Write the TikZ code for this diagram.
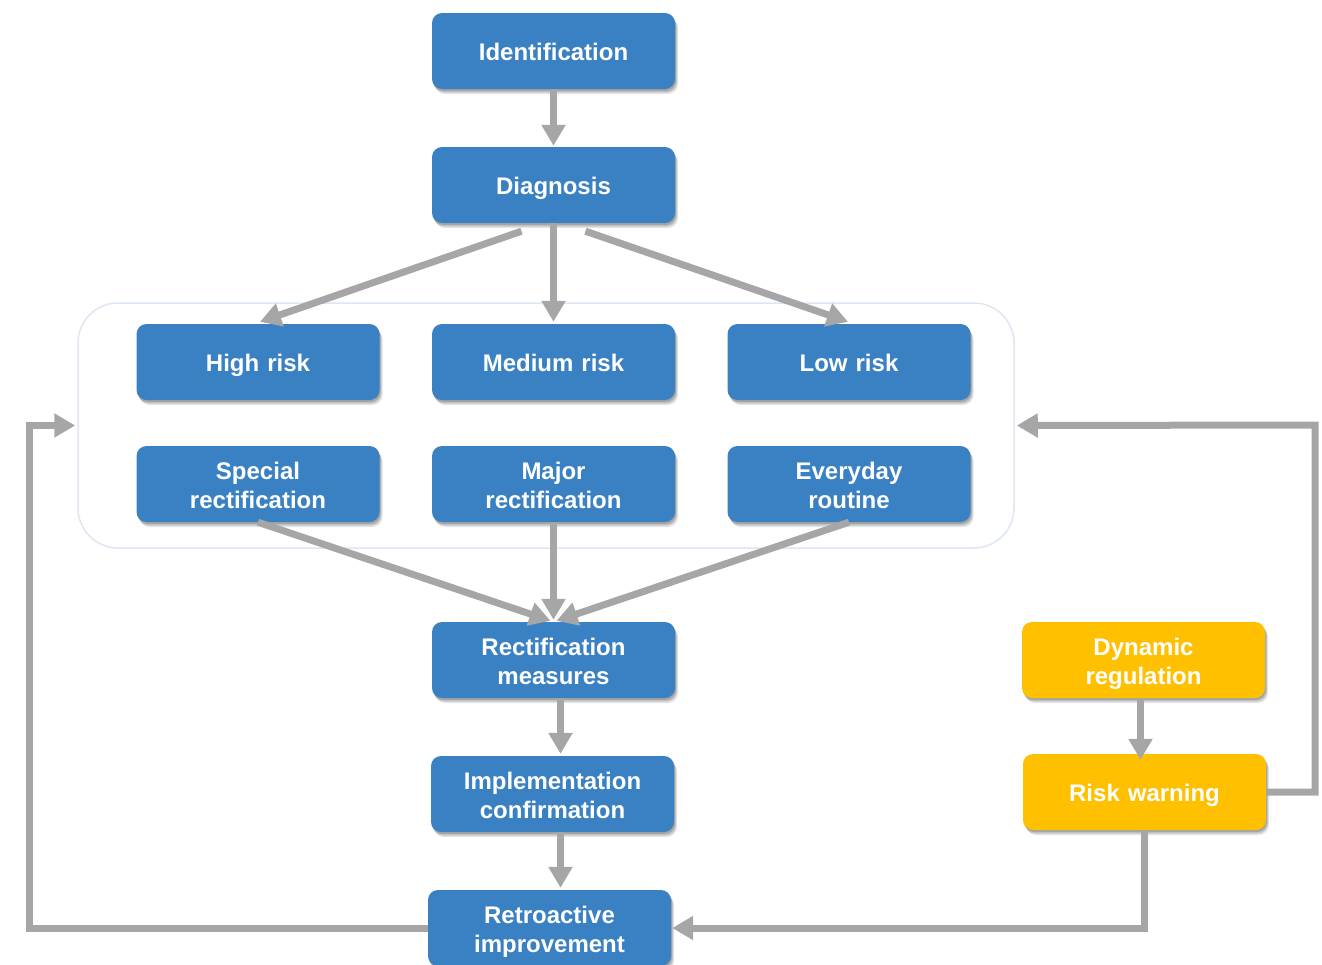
\documentclass[tikz,border=0pt]{standalone}
\usepackage{fontspec}
\setmainfont{Liberation Sans}
\usetikzlibrary{arrows.meta,shadows,calc}
\definecolor{boxblue}{HTML}{3A81C4}
\definecolor{boxgold}{HTML}{FFC000}
\definecolor{linkgray}{HTML}{A6A6A6}
\definecolor{frameblue}{HTML}{DDE6F1}
\tikzset{
  stepbox/.style={rounded corners=10pt, fill=boxblue, draw=none,
    minimum width=243pt, minimum height=76pt, text width=230pt, align=center,
    text=white, font=\fontsize{24}{29}\selectfont\bfseries,
    text height=18pt, text depth=0pt,
    drop shadow={shadow xshift=3pt, shadow yshift=-5pt, opacity=0.10, fill=black},
    drop shadow={shadow xshift=2pt, shadow yshift=-3.5pt, opacity=0.14, fill=black},
    drop shadow={shadow xshift=1pt, shadow yshift=-2pt, opacity=0.16, fill=black}},
  twoline/.style={text height=17.2pt, text depth=26.6pt},
  warnbox/.style={stepbox, fill=boxgold},
  groupframe/.style={rounded corners=40pt, draw=frameblue, line width=1.5pt, fill=none},
  link/.style={draw=linkgray, line width=7pt,
    -{Triangle[width=23pt,length=21pt]}}
}
\begin{document}
\begin{tikzpicture}[x=1pt,y=-1pt]
  \useasboundingbox (0,0) rectangle (1322,964);
  \clip (0,0) rectangle (1322,964);

  % grouping frame around the risk levels and the responses
  \node[groupframe, minimum width=936pt, minimum height=245pt] (grp) at (546,425.5) {};

  % main column
  \node[stepbox] (ident) at (553.5,51) {Identification};
  \node[stepbox] (diag)  at (553.5,185) {Diagnosis};

  % risk levels
  \node[stepbox] (high) at (258,362) {High risk};
  \node[stepbox] (med)  at (553.5,362) {Medium risk};
  \node[stepbox] (low)  at (849,362) {Low risk};

  % responses
  \node[stepbox, twoline] (spec)  at (258,484) {Special\\rectification};
  \node[stepbox, twoline] (major) at (553.5,484) {Major\\rectification};
  \node[stepbox, twoline] (every) at (849,484) {Everyday\\routine};

  \node[stepbox, twoline] (rect)  at (553.5,660) {Rectification\\measures};
  \node[stepbox, twoline] (impl)  at (552.5,794) {Implementation\\confirmation};
  \node[stepbox, twoline] (retro) at (549.5,928) {Retroactive\\improvement};

  % monitoring branch
  \node[warnbox, twoline] (dyn)  at (1143.5,660) {Dynamic\\regulation};
  \node[warnbox] (warn) at (1144.5,792) {Risk warning};

  % loop-back corners
  \coordinate (lc) at (29,928);
  \coordinate (rc) at (1315,425);

  % connectors
  \draw[link] (ident.south) -- ($(diag.north)+(0,-1)$);
  \draw[link] ($(diag.south)+(-32,8)$) -- ($(high.north)+(2,-2)$);
  \draw[link] (diag.south) -- ($(med.north)+(0,-2)$);
  \draw[link] ($(diag.south)+(32,8)$) -- ($(low.north)+(-1,-2)$);

  \draw[link] (spec.south) -- ($(rect.north)+(-3,-1)$);
  \draw[link] (major.south) -- ($(rect.north)+(0,-2)$);
  \draw[link] (every.south) -- ($(rect.north)+(3,-1)$);

  \draw[link] ($(rect.south)+(7,0)$) -- ($(impl.north)+(8,-2)$);
  \draw[link] ($(impl.south)+(8,0)$) -- ($(retro.north)+(11,-2)$);
  \draw[link] ($(dyn.south)+(-3,2)$) -- ($(warn.north)+(-4,6)$);

  % loop-back links
  \draw[link] (warn.east) -| (rc) -- ($(grp.east)+(2,0)$);
  \draw[link] (warn.south) |- ($(retro.east)+(1,0)$);
  \draw[link] (retro.west) -- (lc) |- ($(grp.west)+(-2,0)$);
\end{tikzpicture}
\end{document}
